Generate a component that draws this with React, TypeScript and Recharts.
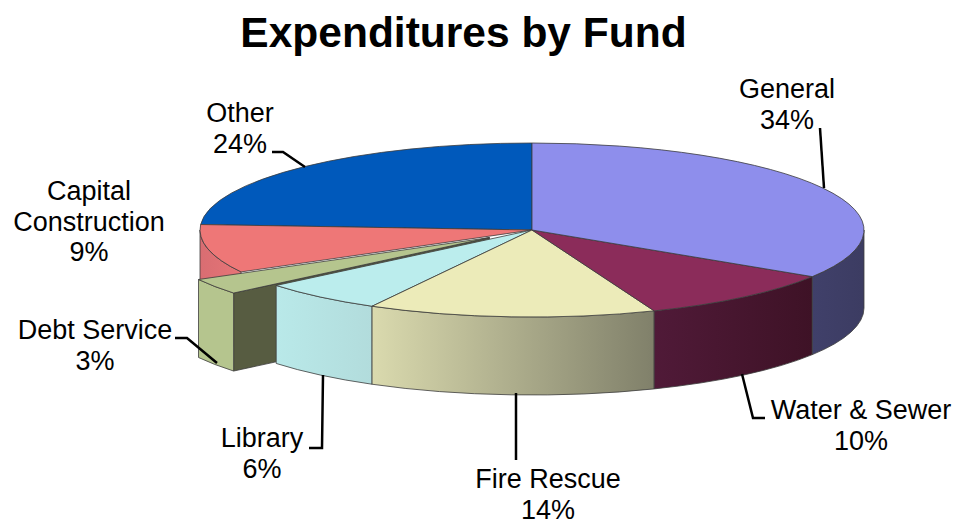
import { PieChart, Pie } from 'recharts';

const categories = ['General', 'Water & Sewer', 'Fire Rescue', 'Library', 'Debt Service', 'Capital Construction', 'Other'];
const shares = [34, 10, 14, 6, 3, 9, 24];
const topColors = ['#8e8eec', '#8b2c5a', '#ecebb9', '#bbeded', '#b5c58e', '#ee7777', '#0059bb'];
const wallLeftColors = ['#40406a', '#501a38', '#dadaae', '#b9e9e9', '#b5c58e', '#d96d72', '#003f88'];
const wallRightColors = ['#3c3c62', '#3e1226', '#80806a', '#b2dcdc', '#b5c58e', '#e67577', '#003f88'];

// pulled-out slices, as a fraction of the radius
const explode: Record<string, number> = { 'Debt Service': 0.155 };

const CX = 532;
const CY = 230;
const RX = 332;
const RY = 87;
const DEPTH = 78;
const EDGE = '#3c3c3c';
const FONT = '"Liberation Sans", Arial, sans-serif';

// painted back to front, so the pulled-out slice ends up behind its neighbour
const slices = categories
  .map((name, i) => ({
    name,
    value: shares[i],
    fill: topColors[i],
    wallLeft: wallLeftColors[i],
    wallRight: wallRightColors[i],
  }))
  .reverse();

const labelSpots: Record<string, { x: number; y: number; leader?: string }> = {
  General: { x: 787, y: 98, leader: 'M820 128L824 188' },
  'Water & Sewer': { x: 861, y: 419, leader: 'M742 374L753 418L765 418' },
  'Fire Rescue': { x: 548, y: 488, leader: 'M516 393L516 460' },
  Library: { x: 262, y: 447, leader: 'M323 375L322 448L309 448' },
  'Debt Service': { x: 95, y: 339, leader: 'M175 338L187 338L217 363' },
  'Capital Construction': { x: 89, y: 200 },
  Other: { x: 240, y: 122, leader: 'M272 152L283 152L305 167' },
};

const rad = (deg: number) => (deg * Math.PI) / 180;

// flat pie sector projected onto an ellipse, with its side wall below it
const TiltedSlice = (props: any) => {
  const { startAngle, endAngle, midAngle, payload } = props;
  const a = Math.min(startAngle, endAngle);
  const b = Math.max(startAngle, endAngle);
  const pull = (explode[payload.name] ?? 0) * RX;
  const ox = CX + pull * Math.cos(rad(midAngle));
  const oy = CY - (pull * RY * Math.sin(rad(midAngle))) / RX;
  const px = (deg: number) => ox + RX * Math.cos(rad(deg));
  const py = (deg: number) => oy - RY * Math.sin(rad(deg));

  const top = `M${ox} ${oy}L${px(a)} ${py(a)}A${RX} ${RY} 0 ${b - a > 180 ? 1 : 0} 0 ${px(b)} ${py(b)}Z`;

  // only the front half of the rim is ever visible
  const w0 = Math.max(a, 180);
  const w1 = Math.min(b, 360);
  const hasWall = w1 > w0;
  const wall = `M${px(w0)} ${py(w0)}A${RX} ${RY} 0 0 0 ${px(w1)} ${py(w1)}L${px(w1)} ${py(w1) + DEPTH}A${RX} ${RY} 0 0 1 ${px(w0)} ${py(w0) + DEPTH}Z`;
  const gradientId = `wall-${payload.name.replace(/\W/g, '')}`;

  return (
    <g>
      {pull > 0 && (
        <path
          d={`M${px(b)} ${py(b)}L${px(b)} ${py(b) + DEPTH}L${ox} ${oy + DEPTH}L${ox} ${oy}Z`}
          fill="#575c41"
          stroke={EDGE}
          strokeWidth={0.8}
        />
      )}
      {hasWall && (
        <>
          <defs>
            <linearGradient id={gradientId} x1="0" y1="0" x2="1" y2="0">
              <stop offset="0%" stopColor={payload.wallLeft} />
              <stop offset="100%" stopColor={payload.wallRight} />
            </linearGradient>
          </defs>
          <path d={wall} fill={`url(#${gradientId})`} stroke={EDGE} strokeWidth={0.8} />
        </>
      )}
      <path d={top} fill={payload.fill} stroke={EDGE} strokeWidth={0.8} />
    </g>
  );
};

const SliceLabel = (props: any) => {
  const { name, value } = props;
  const spot = labelSpots[name];
  const lines = name === 'Capital Construction' ? name.split(' ') : [name];
  return (
    <g>
      {spot.leader && <path d={spot.leader} fill="none" stroke="#000" strokeWidth={2.5} />}
      <text x={spot.x} y={spot.y} textAnchor="middle" fontFamily={FONT} fontSize={27} fill="#000">
        {[...lines, `${value}%`].map((line: string, i: number) => (
          <tspan key={i} x={spot.x} dy={i === 0 ? 0 : 30.5}>
            {line}
          </tspan>
        ))}
      </text>
    </g>
  );
};

export default function App() {
  return (
    <div style={{ position: 'absolute', left: 0, top: 0, width: 953, height: 521 }}>
      <PieChart width={953} height={521} margin={{ top: 0, right: 0, bottom: 0, left: 0 }}>
        <text x={463.5} y={47} textAnchor="middle" fontFamily={FONT} fontSize={42.5} fontWeight="bold" fill="#000">
          Expenditures by Fund
        </text>
        <Pie
          data={slices}
          dataKey="value"
          nameKey="name"
          cx={CX}
          cy={CY}
          outerRadius={RX}
          startAngle={90}
          endAngle={450}
          stroke="none"
          shape={TiltedSlice}
          label={SliceLabel}
          labelLine={false}
          isAnimationActive={false}
        />
      </PieChart>
    </div>
  );
}
